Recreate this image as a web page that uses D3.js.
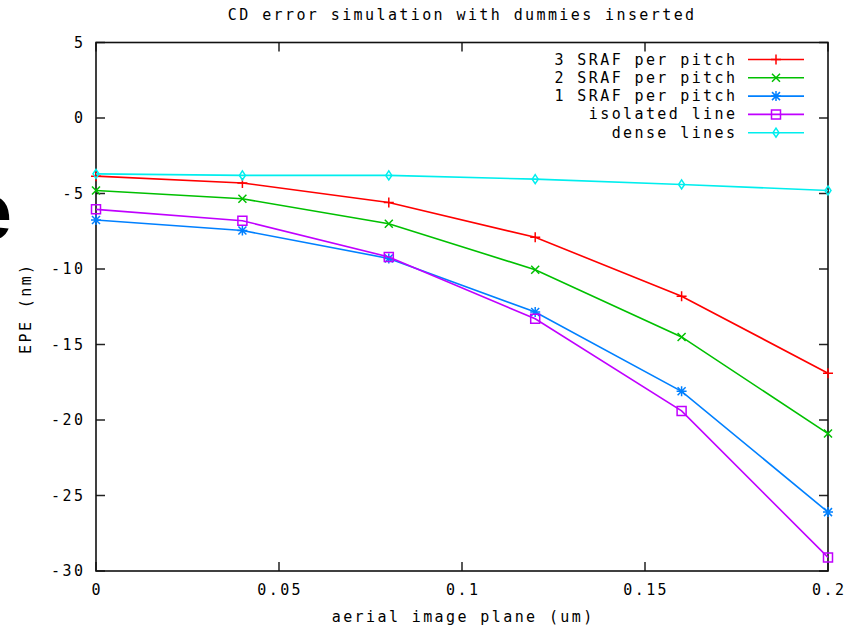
<!DOCTYPE html>
<html>
<head>
<meta charset="utf-8">
<script src="https://cdn.jsdelivr.net/npm/d3@7/dist/d3.min.js"></script>
<style>
  html, body { margin: 0; padding: 0; background: #fff; }
  svg text { font-family: "DejaVu Sans Mono", "Liberation Mono", monospace; font-size: 15px; fill: #000; letter-spacing: 2.4px; }
</style>
</head>
<body>
<svg id="chart" width="860" height="626"></svg>
<script>
// aerial image plane positions (um)
const planes = [0, 0.04, 0.08, 0.12, 0.16, 0.2];

// EPE values (nm)
const sraf3 = [-3.85, -4.3, -5.6, -7.9, -11.8, -16.9];
const sraf2 = [-4.8, -5.35, -7.0, -10.05, -14.5, -20.9];
const sraf1 = [-6.75, -7.45, -9.3, -12.85, -18.1, -26.1];
const isolated = [-6.05, -6.8, -9.2, -13.3, -19.4, -29.1];
const dense = [-3.7, -3.8, -3.8, -4.05, -4.4, -4.8];

const xTicks = [0, 0.05, 0.1, 0.15, 0.2];
const xTickLabels = ['0', '0.05', '0.1', '0.15', '0.2'];
const yTicks = [5, 0, -5, -10, -15, -20, -25, -30];

const series = [
  { name: '3 SRAF per pitch', values: sraf3, color: '#ff0000', marker: 'plus' },
  { name: '2 SRAF per pitch', values: sraf2, color: '#00c000', marker: 'cross' },
  { name: '1 SRAF per pitch', values: sraf1, color: '#0080ff', marker: 'star' },
  { name: 'isolated line', values: isolated, color: '#c000ff', marker: 'box' },
  { name: 'dense lines', values: dense, color: '#00eeee', marker: 'diamond' },
];

const LS = 2.4; // letter-spacing, used to re-centre anchored text
const M = { left: 96, right: 828, top: 42.5, bottom: 571 };
const svg = d3.select('#chart');

const x = d3.scaleLinear().domain([0, 0.2]).range([M.left, M.right]);
const y = d3.scaleLinear().domain([-30, 5]).range([M.bottom, M.top]);

// stray big glyph clipped at the left edge
svg.append('text').text('e').attr('x', 12).attr('y', 239).attr('text-anchor', 'end')
  .style('font-family', '"Liberation Sans", Arial, sans-serif').style('font-weight', 'bold')
  .style('font-size', '80px').style('letter-spacing', '0px');

// title + axis labels
svg.append('text').text('CD error simulation with dummies inserted')
  .attr('x', 461 + LS / 2).attr('y', 20).attr('text-anchor', 'middle');
svg.append('text').text('aerial image plane (um)')
  .attr('x', 462 + LS / 2).attr('y', 622).attr('text-anchor', 'middle');
svg.append('text').text('EPE (nm)')
  .attr('transform', `translate(31,${307 + LS / 2}) rotate(-90)`).attr('text-anchor', 'middle');

// ticks (inward, mirrored on all sides)
const tk = 9;
const ticks = svg.append('g').attr('stroke', '#222').attr('stroke-width', 1.5);
yTicks.forEach((v) => {
  ticks.append('line').attr('x1', M.left).attr('x2', M.left + tk).attr('y1', y(v)).attr('y2', y(v));
  ticks.append('line').attr('x1', M.right).attr('x2', M.right - tk).attr('y1', y(v)).attr('y2', y(v));
});
xTicks.forEach((v) => {
  ticks.append('line').attr('x1', x(v)).attr('x2', x(v)).attr('y1', M.bottom).attr('y2', M.bottom - tk);
  ticks.append('line').attr('x1', x(v)).attr('x2', x(v)).attr('y1', M.top).attr('y2', M.top + tk);
});

// tick labels
svg.append('g').selectAll('text').data(yTicks).join('text')
  .text((d) => d).attr('x', 83 + LS).attr('y', (d) => y(d) + 5).attr('text-anchor', 'end');
svg.append('g').selectAll('text').data(xTicks).join('text')
  .text((d, i) => xTickLabels[i]).attr('x', (d) => x(d) + LS / 2).attr('y', 595).attr('text-anchor', 'middle');

// border
svg.append('rect').attr('x', M.left).attr('y', M.top)
  .attr('width', M.right - M.left).attr('height', M.bottom - M.top)
  .attr('fill', 'none').attr('stroke', '#111').attr('stroke-width', 1.6);

function markerPath(kind) {
  const p = d3.path();
  if (kind === 'plus' || kind === 'star') {
    p.moveTo(-5, 0); p.lineTo(5, 0); p.moveTo(0, -5); p.lineTo(0, 5);
  }
  if (kind === 'cross' || kind === 'star') {
    p.moveTo(-4, -4); p.lineTo(4, 4); p.moveTo(-4, 4); p.lineTo(4, -4);
  }
  if (kind === 'box') p.rect(-4.5, -4.5, 9, 9);
  if (kind === 'diamond') {
    p.moveTo(0, -4.5); p.lineTo(3, 0); p.lineTo(0, 4.5); p.lineTo(-3, 0); p.closePath();
  }
  return p.toString();
}

const line = d3.line().x((d) => x(d[0])).y((d) => y(d[1]));
const plot = svg.append('g');
series.forEach((s) => {
  const pts = planes.map((p, i) => [p, s.values[i]]);
  plot.append('path').attr('d', line(pts)).attr('fill', 'none')
    .attr('stroke', s.color).attr('stroke-width', 1.6);
  plot.selectAll(null).data(pts).join('path')
    .attr('d', markerPath(s.marker)).attr('transform', (d) => `translate(${x(d[0])},${y(d[1])})`)
    .attr('fill', 'none').attr('stroke', s.color).attr('stroke-width', 1.5);
});

// legend (top-right, no box)
const legend = svg.append('g');
series.forEach((s, i) => {
  const ly = 59.5 + i * 18.3;
  legend.append('text').text(s.name).attr('x', 735 + LS).attr('y', ly + 5).attr('text-anchor', 'end');
  legend.append('line').attr('x1', 748).attr('x2', 804).attr('y1', ly).attr('y2', ly)
    .attr('stroke', s.color).attr('stroke-width', 1.6);
  legend.append('path').attr('d', markerPath(s.marker)).attr('transform', `translate(776,${ly})`)
    .attr('fill', 'none').attr('stroke', s.color).attr('stroke-width', 1.5);
});
</script>
</body>
</html>
